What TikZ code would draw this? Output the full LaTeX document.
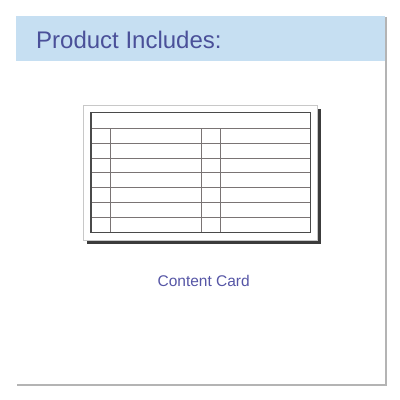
\documentclass[tikz,border=0pt]{standalone}
\usepackage{fontspec}
\setmainfont{Liberation Sans}
\definecolor{band}{HTML}{C6DFF2}
\definecolor{titleblue}{HTML}{4A5099}
\definecolor{capblue}{HTML}{5656A6}
\definecolor{panelshadow}{HTML}{B4B4B4}
\definecolor{cardshadow}{HTML}{3C3C3C}
\definecolor{cardedge}{HTML}{C8C8C8}
\definecolor{tableedge}{HTML}{4A4A4A}
\definecolor{tableline}{HTML}{7A7474}
\tikzset{
  titletext/.style={anchor=base west, inner sep=0pt, text=titleblue, font=\fontsize{24}{28}\selectfont},
  captext/.style={anchor=base, inner sep=0pt, text=capblue, font=\fontsize{15.5}{18}\selectfont},
  tline/.style={draw=tableline, line width=0.8pt},
}
\begin{document}
\begin{tikzpicture}[x=1pt,y=-1pt]
\useasboundingbox (0,0) rectangle (400,400);
% panel
\fill[panelshadow] (17.2,17.2) rectangle (387,386);
\fill[white] (15.7,15.7) rectangle (385.2,384.3);
\fill[band] (15.7,15.7) rectangle (385.2,60.7);
\node[titletext] (title) at (36,48.3) {Product Includes:};
% card
\fill[cardshadow] (86.5,109) rectangle (320.5,244);
\filldraw[fill=white, draw=cardedge, line width=0.9pt] (83.3,105.6) rectangle (317.5,240.5);
% table rows
\foreach \y in {128,143,158,172.8,187.8,202.7,217.6} {
  \draw[tline] (91,\y) -- (310.7,\y);
}
\foreach \x in {110.7,201,220.7} {
  \draw[tline] (\x,128) -- (\x,232.3);
}
\draw[draw=tableedge, line width=1.1pt] (91,112.6) rectangle (310.7,232.3);
\node[captext] (cap) at (203.7,286) {Content Card};
\end{tikzpicture}
\end{document}
